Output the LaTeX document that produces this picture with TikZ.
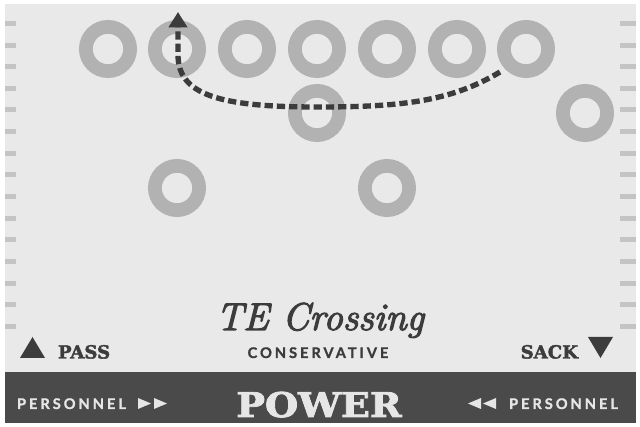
\documentclass[tikz,border=0pt]{standalone}
\usepackage{fontspec}
\usetikzlibrary{arrows.meta}
\newfontfamily\slabfont[FakeBold=2.2]{DejaVu Serif}
\newfontfamily\trackfont[LetterSpace=20,FakeBold=1.2]{Lato}
\newfontfamily\playtitlefont[FakeBold=3]{Latin Modern Roman}
\definecolor{cardbg}{HTML}{E9E9E9}
\definecolor{bandbg}{HTML}{4A4A4A}
\definecolor{ringgray}{HTML}{B2B2B2}
\definecolor{markgray}{HTML}{C4C4C4}
\definecolor{ink}{HTML}{3C3C3C}
\definecolor{bandtext}{HTML}{E6E6E6}
\begin{document}
\begin{tikzpicture}[x=0.75pt,y=-0.75pt,
  ring/.style={circle,draw=ringgray,line width=10.3pt,minimum size=33.2pt,inner sep=0pt},
  yardmark/.style={fill=markgray},
  route/.style={draw=ink,line width=4pt,dash pattern=on 6.2pt off 3pt,-{Triangle[width=13.5pt,length=11.5pt]}},
  txt/.style={inner sep=0pt,outer sep=0pt},
  slabtxt/.style={txt,text=ink,font=\slabfont\bfseries\fontsize{13.6}{15}\selectfont},
  tracktxt/.style={txt,font=\trackfont\bfseries\fontsize{11}{13}\selectfont},
  bandtri/.style={fill=bandtext},
  inktri/.style={fill=ink}]
\useasboundingbox (0,0) rectangle (640,427);
\fill[white] (0,0) rectangle (640,427);
\fill[cardbg] (5,4) rectangle (636,423);
\fill[bandbg] (5,372) rectangle (636,423);
% yard marks
\foreach \i in {0,...,14} {
  \fill[yardmark] (5,{20.9+\i*21.65}) rectangle (16,{25.9+\i*21.65});
  \fill[yardmark] (620,{20.9+\i*21.65}) rectangle (636,{25.9+\i*21.65});
}
% players
\node[ring] (o1) at (108,49) {};
\node[ring] (o2) at (177,49) {};
\node[ring] (o3) at (247,49) {};
\node[ring] (o4) at (317,49) {};
\node[ring] (o5) at (387,49) {};
\node[ring] (o6) at (457,49) {};
\node[ring] (o7) at (526,49) {};
\node[ring] (qb) at (317,113) {};
\node[ring] (wr) at (585,113) {};
\node[ring] (b1) at (177,188) {};
\node[ring] (b2) at (387,188) {};
% route
\coordinate (rs) at (500,72);
\coordinate (re) at (178,12);
\draw[route] (rs) .. controls (450,102) and (400,107) .. (317,107)
  .. controls (220,107) and (178,95) .. (178,55) -- (re);
% title
\node[txt,anchor=base,text=ink,font=\playtitlefont\itshape\fontsize{29}{32}\selectfont] (title) at (320,330) {TE Crossing};
\node[tracktxt,anchor=base,text=ink] (cons) at (318,358) {CONSERVATIVE};
% pass / sack
\fill[inktri] (20,358) -- (45,358) -- (32.5,337) -- cycle;
\node[slabtxt,anchor=base west] (pass) at (58,358.5) {PASS};
\node[slabtxt,anchor=base east] (sack) at (578,358.5) {SACK};
\fill[inktri] (588,337) -- (613,337) -- (600.5,358) -- cycle;
% band
\node[tracktxt,anchor=base west,text=bandtext] (persL) at (17,409) {PERSONNEL};
\fill[bandtri] (138,398) -- (138,409) -- (151,403.5) -- cycle;
\fill[bandtri] (154,398) -- (154,409) -- (167,403.5) -- cycle;
\node[txt,anchor=base,text=bandtext,font=\slabfont\bfseries\fontsize{25.5}{28}\selectfont] (power) at (319,417) {\scalebox{1.12}[1]{POWER}};
\fill[bandtri] (481,398) -- (481,409) -- (468,403.5) -- cycle;
\fill[bandtri] (496,398) -- (496,409) -- (483,403.5) -- cycle;
\node[tracktxt,anchor=base east,text=bandtext] (persR) at (618,409) {PERSONNEL};
\end{tikzpicture}
\end{document}
